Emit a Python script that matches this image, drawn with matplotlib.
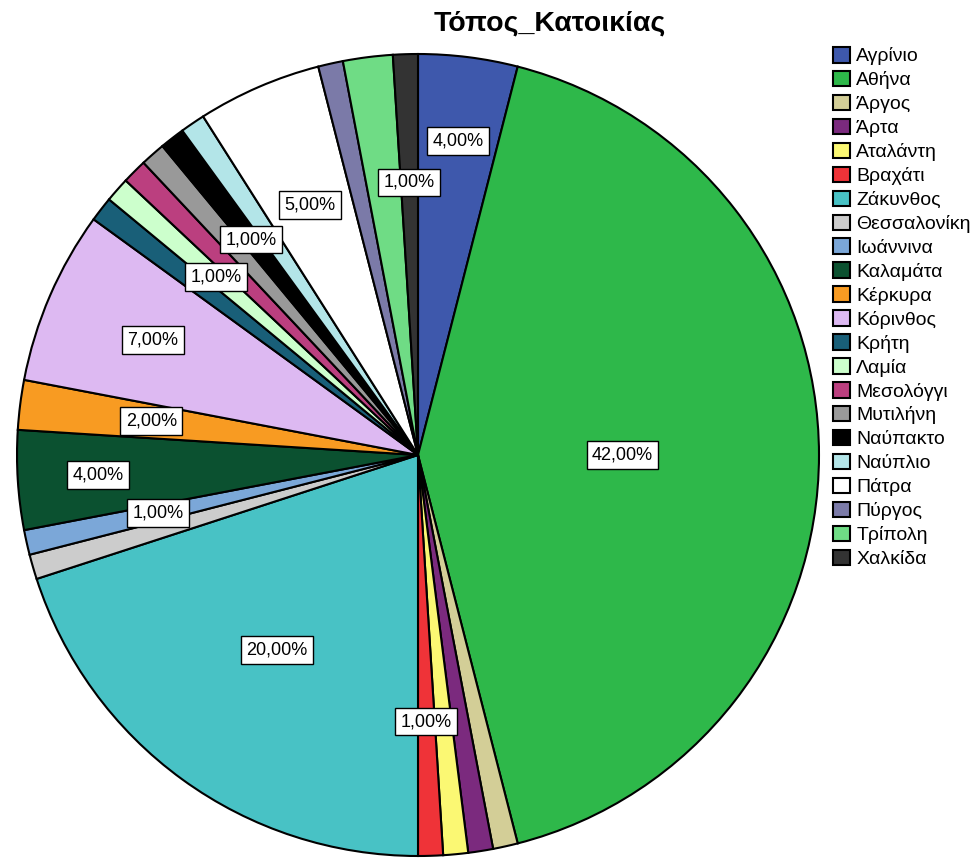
import numpy as np
import matplotlib
matplotlib.use('Agg')
import matplotlib.pyplot as plt

plt.rcParams['font.family'] = ['Liberation Sans', 'DejaVu Sans']

cities = ['Αγρίνιο', 'Αθήνα', 'Άργος', 'Άρτα', 'Αταλάντη', 'Βραχάτι', 'Ζάκυνθος',
          'Θεσσαλονίκη', 'Ιωάννινα', 'Καλαμάτα', 'Κέρκυρα', 'Κόρινθος', 'Κρήτη',
          'Λαμία', 'Μεσολόγγι', 'Μυτιλήνη', 'Ναύπακτο', 'Ναύπλιο', 'Πάτρα',
          'Πύργος', 'Τρίπολη', 'Χαλκίδα']
percents = [4, 42, 1, 1, 1, 1, 20, 1, 1, 4, 2, 7, 1, 1, 1, 1, 1, 1, 5, 1, 2, 1]
colors = ['#3e58ac', '#2eb84a', '#d3ce97', '#7b2a7e', '#fbf873', '#ef3338', '#48c2c5',
          '#cccccc', '#7ba7d8', '#0b5130', '#f89b22', '#ddb9f2', '#195f78',
          '#ccffcc', '#bb3f7f', '#999999', '#000000', '#b3e5e8', '#ffffff',
          '#7b7aa8', '#6fdc85', '#333333']

# which slices get a percentage label, and how far out (fraction of radius)
label_r = {'Αγρίνιο': 0.79, 'Αθήνα': 0.51, 'Βραχάτι': 0.665, 'Ζάκυνθος': 0.6,
           'Ιωάννινα': 0.665, 'Καλαμάτα': 0.8, 'Κέρκυρα': 0.67, 'Κόρινθος': 0.72,
           'Λαμία': 0.67, 'Ναύπακτο': 0.68, 'Πάτρα': 0.68, 'Χαλκίδα': 0.68}

fig = plt.figure(figsize=(9.75, 8.59), dpi=100)
ax = fig.add_axes([15 / 975, 1 / 859, 806 / 975, 806 / 859])

wedges, _ = ax.pie(percents, colors=colors, startangle=90, counterclock=False,
                   radius=1.0, wedgeprops=dict(edgecolor='black', linewidth=1.5))
ax.set_xlim(-1.005, 1.005)
ax.set_ylim(-1.005, 1.005)
ax.set_aspect('equal')
ax.axis('off')

total = sum(percents)
cum = np.cumsum([0] + percents)
for i, name in enumerate(cities):
    if name not in label_r:
        continue
    mid = (cum[i] + cum[i + 1]) / 2 / total * 2 * np.pi
    r = label_r[name]
    x, y = r * np.sin(mid), r * np.cos(mid)
    ax.text(x, y, f'{percents[i] / total * 100:.2f}'.replace('.', ',') + '%',
            ha='center', va='center', fontsize=13,
            bbox=dict(boxstyle='square,pad=0.3', facecolor='white',
                      edgecolor='black', linewidth=1))

fig.text(550 / 975, 1 - 23 / 859, 'Τόπος_Κατοικίας', ha='center', va='center',
         fontsize=20.5, fontweight='bold')

fig.legend(wedges, cities, loc='upper left', bbox_to_anchor=(833 / 975, 1 - 47 / 859),
           frameon=False, fontsize=14, handlelength=0.85, handleheight=0.85,
           handletextpad=0.35, labelspacing=0.28, borderpad=0, borderaxespad=0)

fig.savefig('out.png', dpi=100)
